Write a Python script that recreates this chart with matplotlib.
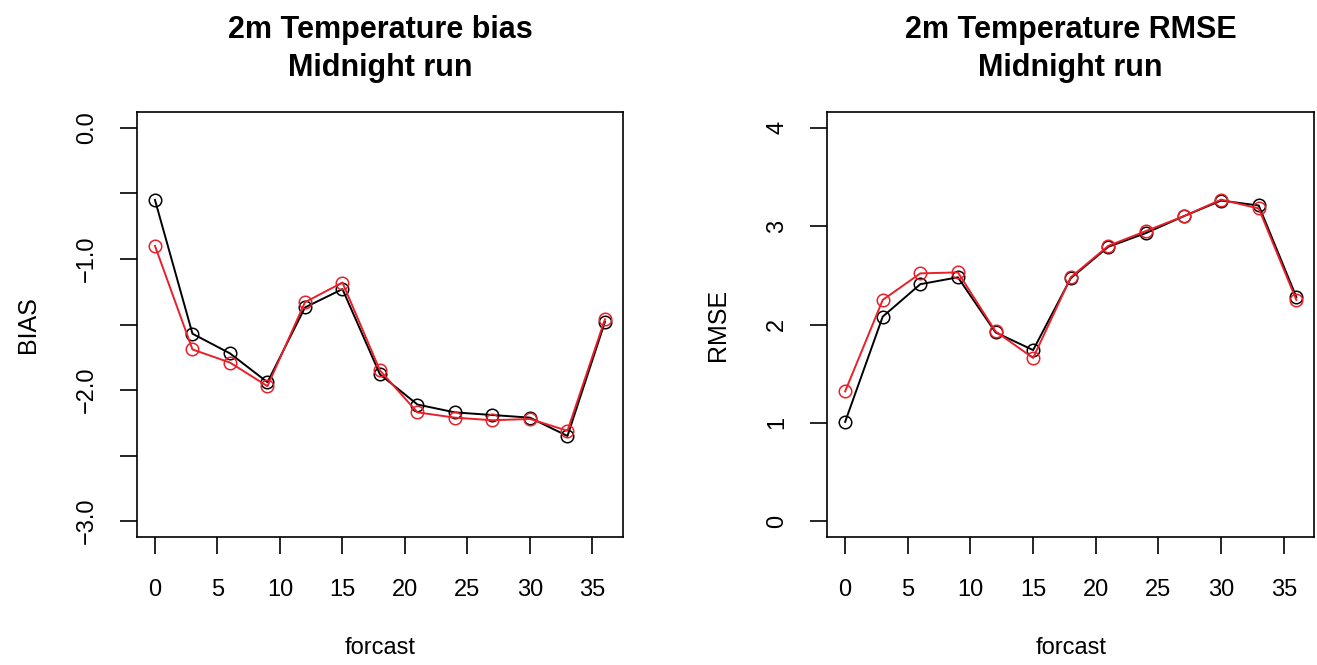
import numpy as np
import matplotlib
matplotlib.use("Agg")
import matplotlib.pyplot as plt

# forecast lead times (hours)
lead = [0, 3, 6, 9, 12, 15, 18, 21, 24, 27, 30, 33, 36]

# 2m temperature bias
bias_black = [-0.55, -1.57, -1.72, -1.94, -1.37, -1.23, -1.88, -2.11, -2.17, -2.19, -2.21, -2.35, -1.48]
bias_red = [-0.90, -1.69, -1.79, -1.97, -1.33, -1.18, -1.85, -2.17, -2.21, -2.23, -2.22, -2.31, -1.46]

# 2m temperature RMSE
rmse_black = [1.01, 2.08, 2.41, 2.48, 1.92, 1.74, 2.47, 2.79, 2.93, 3.10, 3.26, 3.21, 2.28]
rmse_red = [1.32, 2.25, 2.52, 2.53, 1.93, 1.66, 2.48, 2.80, 2.95, 3.10, 3.27, 3.18, 2.25]

plt.rcParams['font.family'] = ['Liberation Sans', 'DejaVu Sans']

fig = plt.figure(figsize=(13.17, 6.65), dpi=100)
ax1 = fig.add_axes([0.104, 0.1925, 0.369, 0.639])
ax2 = fig.add_axes([0.628, 0.1925, 0.370, 0.639])


def style(ax, yticks, ylabels, ylim, ylabel, title):
    ax.set_xlim(-1.44, 37.44)
    ax.set_ylim(*ylim)
    ax.set_xticks(range(0, 36, 5))
    ax.set_yticks(yticks)
    ax.set_yticklabels(ylabels, rotation=90, va='center')
    ax.tick_params(direction='out', length=12, width=1.2, labelsize=17)
    ax.tick_params(axis='x', pad=18)
    ax.tick_params(axis='y', pad=16)
    for s in ax.spines.values():
        s.set_linewidth(1.2)
    ax.set_xlabel('forcast', fontsize=17, labelpad=26)
    ax.set_ylabel(ylabel, fontsize=18, labelpad=26)
    ax.text(0.5, 1.148, title, transform=ax.transAxes, ha='center', va='center',
            fontsize=22, fontweight='bold', linespacing=1.35)


mk = dict(marker='o', markersize=9, markerfacecolor='none', markeredgewidth=1.1, linewidth=1.4)

ax1.plot(lead, bias_black, color='black', **mk)
ax1.plot(lead, bias_red, color='#e8202a', **mk)
style(ax1, np.arange(-3.0, 0.01, 0.5),
      ['\u22123.0', '', '\u22122.0', '', '\u22121.0', '', '0.0'],
      (-3.12, 0.12), 'BIAS', '2m Temperature bias\nMidnight run')

ax2.plot(lead, rmse_black, color='black', **mk)
ax2.plot(lead, rmse_red, color='#e8202a', **mk)
style(ax2, [0, 1, 2, 3, 4], ['0', '1', '2', '3', '4'],
      (-0.16, 4.16), 'RMSE', '2m Temperature RMSE\nMidnight run')

fig.savefig('out.png', dpi=100)
